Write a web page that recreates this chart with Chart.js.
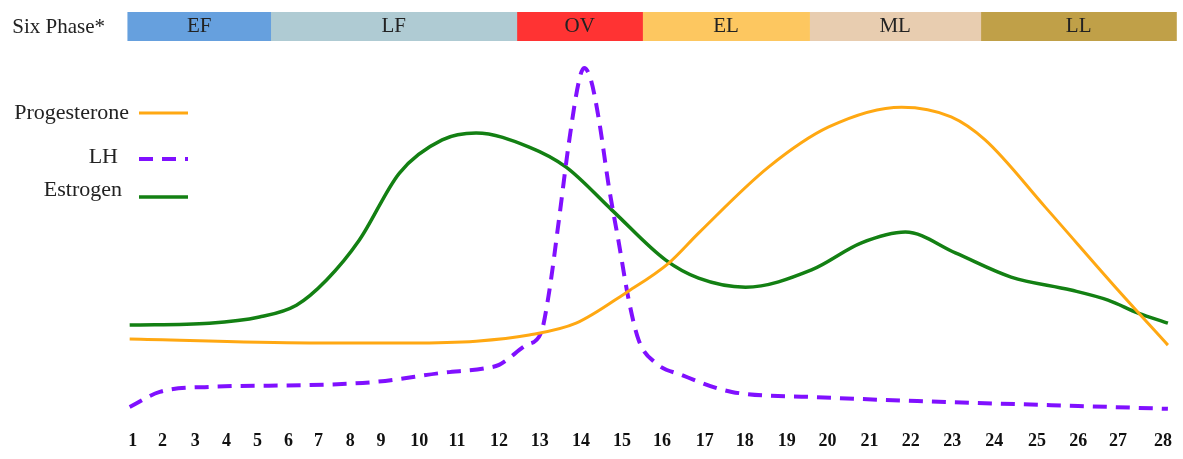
<!DOCTYPE html>
<html>
<head>
<meta charset="utf-8">
<script src="https://cdn.jsdelivr.net/npm/chart.js@4.4.1/dist/chart.umd.min.js"></script>
<style>
  html, body { margin: 0; padding: 0; background: #fff; }
  #wrap { position: relative; width: 1183px; height: 459px; overflow: hidden; }
  #phase-box { position: absolute; left: 0; top: 0; width: 1183px; height: 50px; }
  #main-box { position: absolute; left: 0; top: 50px; width: 1183px; height: 409px; }
</style>
</head>
<body>
<div id="wrap">
  <div id="main-box"><canvas id="hormone-chart" width="1183" height="409"></canvas></div>
  <div id="phase-box"><canvas id="phase-chart" width="1183" height="50"></canvas></div>
</div>
<script>
// cycle days along the bottom, and where each label sits on the cycle axis
const dayLabels = [1, 2, 3, 4, 5, 6, 7, 8, 9, 10, 11, 12, 13, 14, 15, 16, 17, 18, 19, 20, 21, 22, 23, 24, 25, 26, 27, 28];
const dayTickPos = [1.00, 1.78, 2.64, 3.46, 4.27, 5.08, 5.87, 6.70, 7.51, 8.51, 9.50, 10.60, 11.67, 12.75,
                    13.82, 14.87, 15.99, 17.04, 18.14, 19.21, 20.31, 21.39, 22.48, 23.58, 24.70, 25.78, 26.82, 28.00];

// six phases (top band)
const phaseTitle = 'Six Phase*';
const phaseNames = ['EF', 'LF', 'OV', 'EL', 'ML', 'LL'];
const phaseStart = [0.87, 4.61, 11.05, 14.34, 18.71, 23.19];
const phaseEnd = [4.61, 11.05, 14.34, 18.71, 23.19, 28.31];
const phaseColors = ['#66a0de', '#afcbd3', '#ff3333', '#fdc760', '#e8cdb0', '#c0a048'];

// hormone levels (relative, 0-100)
const progesteroneX = [0.92, 5.63, 8.25, 10.00, 11.39, 12.62, 13.92, 15.05, 15.83, 17.67, 19.24, 21.15, 22.45, 23.34, 24.91, 26.82, 28.13];
const progesteroneLevel = [22.5, 21.4, 21.4, 21.9, 23.6, 26.9, 35.3, 43.6, 51.9, 70.3, 81.4, 86.9, 84.2, 77.8, 59.2, 36.1, 20.8];

const lhX = [0.92, 1.71, 3.01, 5.63, 7.38, 9.11, 10.26, 10.60, 11.31, 11.70, 11.91, 12.17, 12.43, 12.70, 12.83,
             13.01, 13.22, 13.48, 13.74, 14.00, 14.26, 14.71, 15.39, 16.70, 18.79, 22.30, 25.78, 28.13];
const lhLevel = [3.6, 7.8, 9.2, 9.7, 10.6, 13.1, 14.4, 15.3, 20.8, 24.2, 35.3, 55.6, 76.9, 94.4, 97.8,
                 94.4, 83.3, 64.7, 49.2, 33.3, 22.2, 15.8, 12.5, 7.8, 6.4, 5.0, 3.9, 3.1];

const estrogenX = [0.92, 3.01, 4.32, 5.29, 6.08, 6.94, 7.99, 9.11, 10.00, 11.39, 12.35, 13.56, 14.97, 15.83,
                   17.06, 18.79, 20.10, 21.25, 22.56, 24.02, 25.59, 26.56, 27.35, 28.13];
const estrogenLevel = [26.4, 26.9, 28.6, 31.9, 38.9, 50.0, 68.6, 77.8, 79.7, 75.8, 70.3, 58.3, 44.4, 39.4,
                       36.9, 41.7, 49.2, 52.2, 46.4, 39.7, 36.1, 33.3, 29.7, 26.9];

const X_MIN = 0.85, X_MAX = 28.35;
const serif = 'Liberation Serif';

function pts(xs, ys) {
    return xs.map((x, i) => ({ x: x, y: ys[i] }));
}

// legend drawn on the left, text first then the line sample
const sideLegend = {
    id: 'sideLegend',
    afterDraw(chart, args, opts) {
        const ctx = chart.ctx;
        ctx.save();
        ctx.font = '22px "' + serif + '"';
        ctx.textAlign = 'right';
        ctx.textBaseline = 'middle';
        ctx.fillStyle = '#222';
        chart.data.datasets.forEach((ds, i) => {
            const it = opts.items[i];
            ctx.fillText(ds.label, it.textRight, it.textY);
            ctx.strokeStyle = ds.borderColor;
            ctx.lineWidth = ds.borderWidth;
            ctx.setLineDash(ds.borderDash || []);
            ctx.beginPath();
            ctx.moveTo(139, it.lineY);
            ctx.lineTo(188, it.lineY);
            ctx.stroke();
        });
        ctx.restore();
    }
};

// phase names inside each block + the row title on the left
const phaseText = {
    id: 'phaseText',
    afterDatasetsDraw(chart) {
        const ctx = chart.ctx;
        ctx.save();
        ctx.font = '21px "' + serif + '"';
        ctx.textBaseline = 'middle';
        ctx.fillStyle = '#222';
        ctx.textAlign = 'center';
        let midY = 0;
        chart.data.datasets.forEach((ds, i) => {
            const el = chart.getDatasetMeta(i).data[0];
            midY = el.y;
            ctx.fillText(ds.label, (el.x + el.base) / 2, el.y);
        });
        ctx.textAlign = 'right';
        ctx.fillText(chart.data.labels[0], 105, midY + 1);
        ctx.restore();
    }
};

new Chart(document.getElementById('phase-chart'), {
    type: 'bar',
    data: {
        labels: [phaseTitle],
        datasets: phaseNames.map((name, i) => ({
            label: name,
            data: [[phaseStart[i], phaseEnd[i]]],
            backgroundColor: phaseColors[i],
            borderWidth: 0,
            grouped: false,
            barPercentage: 1,
            categoryPercentage: 1
        }))
    },
    options: {
        indexAxis: 'y',
        responsive: false,
        animation: false,
        layout: { padding: { top: 12, bottom: 9, left: 127, right: 5 } },
        plugins: { legend: { display: false }, tooltip: { enabled: false } },
        scales: {
            x: { type: 'linear', display: false, min: X_MIN, max: X_MAX },
            y: { display: false }
        }
    },
    plugins: [phaseText]
});

new Chart(document.getElementById('hormone-chart'), {
    type: 'line',
    data: {
        datasets: [
            {
                label: 'Progesterone',
                data: pts(progesteroneX, progesteroneLevel),
                borderColor: '#ffa812',
                borderWidth: 3
            },
            {
                label: 'LH',
                data: pts(lhX, lhLevel),
                borderColor: '#8010ff',
                borderWidth: 4,
                borderDash: [14, 9]
            },
            {
                label: 'Estrogen',
                data: pts(estrogenX, estrogenLevel),
                borderColor: '#138013',
                borderWidth: 3.5
            }
        ]
    },
    options: {
        responsive: false,
        animation: false,
        elements: {
            point: { radius: 0 },
            line: { cubicInterpolationMode: 'monotone', fill: false }
        },
        layout: { padding: { left: 127, right: 5, top: 10, bottom: 0 } },
        plugins: {
            legend: { display: false },
            tooltip: { enabled: false },
            sideLegend: {
                items: [
                    { textRight: 129, textY: 63, lineY: 63 },
                    { textRight: 118, textY: 107, lineY: 109 },
                    { textRight: 122, textY: 140, lineY: 147 }
                ]
            }
        },
        scales: {
            x: {
                type: 'linear',
                min: X_MIN,
                max: X_MAX,
                grid: { display: false, drawTicks: false },
                border: { display: false },
                afterBuildTicks(s) { s.ticks = dayTickPos.map(v => ({ value: v })); },
                afterFit(s) { s.height = 39; },
                ticks: {
                    autoSkip: false,
                    maxRotation: 0,
                    color: '#111',
                    padding: 11,
                    font: { family: serif, size: 18, weight: 'bold' },
                    callback: (v, i) => dayLabels[i]
                }
            },
            y: { display: false, min: 0, max: 100 }
        }
    },
    plugins: [sideLegend]
});
</script>
</body>
</html>
